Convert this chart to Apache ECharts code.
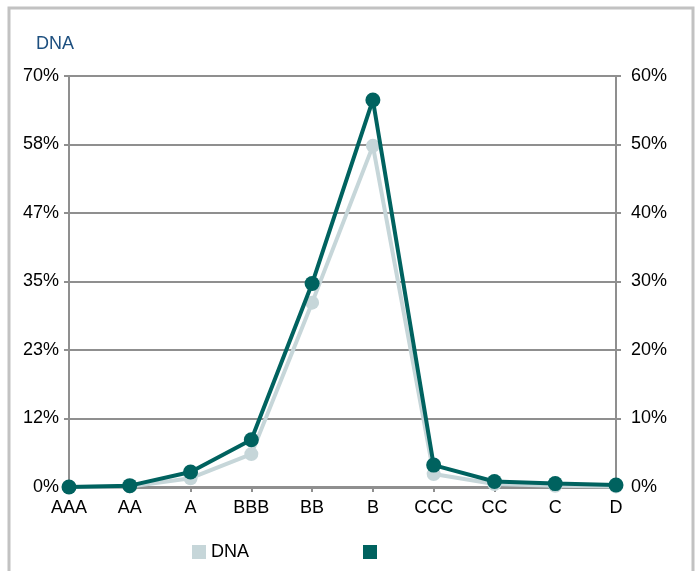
<!DOCTYPE html>
<html>
<head>
<meta charset="utf-8">
<script src="https://cdn.jsdelivr.net/npm/echarts@6/dist/echarts.min.js"></script>
<style>
html,body{margin:0;padding:0;background:#fff;}
#main{width:699px;height:571px;}
</style>
</head>
<body>
<div id="main"></div>
<script>
var categories = ['AAA','AA','A','BBB','BB','B','CCC','CC','C','D'];
var dnaValues = [0, 0.1, 1.5, 5.6, 31.4, 58.1, 2.2, 0.5, 0.2, 0.1];
var secondValues = [0, 0.2, 2.2, 6.9, 29.7, 56.5, 3.2, 0.8, 0.5, 0.3];
var titleText = 'DNA';
var seriesNames = ['DNA', ' '];

var chart = echarts.init(document.getElementById('main'));
var axisGray = '#8f8f8f';
var font = '"Liberation Sans", Arial, sans-serif';
chart.setOption({
  animation: false,
  backgroundColor: '#ffffff',
  title: {
    text: titleText, left: 31, top: 30,
    textStyle: {color: '#1d4f7f', fontSize: 18, fontWeight: 'normal', fontFamily: font}
  },
  graphic: [{
    type: 'rect', silent: true,
    shape: {x: 9, y: 8, width: 684, height: 620},
    style: {fill: 'none', stroke: '#c2c2c2', lineWidth: 3}
  }],
  legend: {
    data: seriesNames,
    bottom: 5, left: 187,
    itemWidth: 14, itemHeight: 14, itemGap: 114,
    icon: 'rect',
    textStyle: {fontSize: 18, color: '#000', fontFamily: font}
  },
  grid: {left: 69, right: 83, top: 76, bottom: 84, containLabel: false},
  xAxis: {
    type: 'category', data: categories, boundaryGap: false,
    axisLine: {lineStyle: {color: axisGray, width: 3}},
    axisTick: {show: true, alignWithLabel: true, length: 5, lineStyle: {color: axisGray, width: 2}},
    axisLabel: {color: '#000', fontSize: 18, fontFamily: font, margin: 12}
  },
  yAxis: [{
    type: 'value', min: 0, max: 70, interval: 70/6, position: 'left',
    axisLine: {show: true, lineStyle: {color: axisGray, width: 2}},
    axisTick: {show: true, length: 5, lineStyle: {color: axisGray, width: 2}},
    splitLine: {show: true, lineStyle: {color: axisGray, width: 2}},
    axisLabel: {color: '#000', fontSize: 18, fontFamily: font, margin: 10,
      formatter: function (v) { return Math.round(v) + '%'; }}
  }, {
    type: 'value', min: 0, max: 60, interval: 10, position: 'right',
    axisLine: {show: true, lineStyle: {color: axisGray, width: 2}},
    axisTick: {show: true, length: 5, lineStyle: {color: axisGray, width: 2}},
    splitLine: {show: false},
    axisLabel: {color: '#000', fontSize: 18, fontFamily: font, margin: 15,
      formatter: function (v) { return v + '%'; }}
  }],
  series: [{
    name: seriesNames[0], type: 'line', yAxisIndex: 0, data: dnaValues,
    symbol: 'circle', symbolSize: 14, z: 2,
    lineStyle: {color: '#c6d6d9', width: 4},
    itemStyle: {color: '#c6d6d9'}
  }, {
    name: seriesNames[1], type: 'line', yAxisIndex: 1, data: secondValues,
    symbol: 'circle', symbolSize: 15, z: 3,
    lineStyle: {color: '#00625f', width: 4},
    itemStyle: {color: '#00625f'}
  }]
});
</script>
</body>
</html>
